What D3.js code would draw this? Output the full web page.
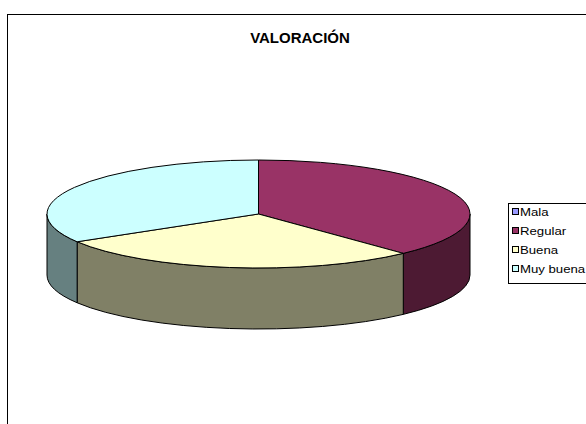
<!DOCTYPE html>
<html>
<head>
<meta charset="utf-8">
<script src="https://cdn.jsdelivr.net/npm/d3@7/dist/d3.min.js"></script>
<style>
  html, body { margin: 0; padding: 0; background: #fff; }
  svg { display: block; }
</style>
</head>
<body>
<script>
// Survey rating shares (percent)
const categories = ["Mala", "Regular", "Buena", "Muy buena"];
const values = [0, 38, 28.4, 33.6];
const colors = ["#9999FF", "#993366", "#FFFFCC", "#CCFFFF"];
const title = "VALORACIÓN";

const W = 586, H = 424;
const svg = d3.select("body").append("svg").attr("width", W).attr("height", H);

// chart frame (runs off the right and bottom edges)
svg.append("rect")
  .attr("x", 7.5).attr("y", 14.5)
  .attr("width", 600).attr("height", 430)
  .attr("fill", "#fff").attr("stroke", "#000").attr("stroke-width", 1);

svg.append("text")
  .attr("x", 300).attr("y", 43)
  .attr("text-anchor", "middle")
  .attr("font-family", "Arial, 'Liberation Sans', sans-serif")
  .attr("font-weight", "bold").attr("font-size", 15)
  .text(title);

// 3D pie geometry
const cx = 258.5, cy = 214, rx = 211.5, ry = 54, depth = 61;
const pie = d3.pie().sort(null).value(d => d.value);
const arcs = pie(categories.map((c, i) => ({ name: c, value: values[i], color: colors[i] })));

const pt = (a, dy = 0) => [cx + rx * Math.sin(a), cy - ry * Math.cos(a) + dy];
const darker = c => { const k = d3.rgb(c); return d3.rgb(k.r * 0.5, k.g * 0.5, k.b * 0.5).toString(); };

const g = svg.append("g");

// visible side walls: only the front half (angles between PI/2 and 3PI/2)
arcs.forEach(d => {
  if (d.endAngle - d.startAngle <= 0) return;
  const s = Math.max(d.startAngle, Math.PI / 2);
  const e = Math.min(d.endAngle, 3 * Math.PI / 2);
  if (e <= s) return;
  const p0 = pt(s), p1 = pt(e), q1 = pt(e, depth), q0 = pt(s, depth);
  const path = `M${p0}A${rx},${ry} 0 0 1 ${p1}L${q1}A${rx},${ry} 0 0 0 ${q0}Z`;
  g.append("path").attr("d", path)
    .attr("fill", darker(d.data.color))
    .attr("stroke", "#000").attr("stroke-width", 1).attr("stroke-linejoin", "round");
});

// top faces
arcs.forEach(d => {
  const span = d.endAngle - d.startAngle;
  if (span <= 0) return;
  const p0 = pt(d.startAngle), p1 = pt(d.endAngle);
  const large = span > Math.PI ? 1 : 0;
  const path = `M${cx},${cy}L${p0}A${rx},${ry} 0 ${large} 1 ${p1}Z`;
  g.append("path").attr("d", path)
    .attr("fill", d.data.color)
    .attr("stroke", "#000").attr("stroke-width", 1).attr("stroke-linejoin", "round");
});

// legend
const lg = svg.append("g");
lg.append("rect")
  .attr("x", 508.5).attr("y", 203.5).attr("width", 100).attr("height", 80)
  .attr("fill", "#fff").attr("stroke", "#000").attr("stroke-width", 1);
const rowY = d3.scalePoint().domain(categories).range([212, 269]);
categories.forEach((c, i) => {
  const y = rowY(c);
  lg.append("rect")
    .attr("x", 512.5).attr("y", y - 3.5).attr("width", 6).attr("height", 6)
    .attr("fill", colors[i]).attr("stroke", "#000").attr("stroke-width", 1);
  lg.append("text")
    .attr("transform", `translate(520,${y + 4}) scale(1.2,1)`)
    .attr("font-family", "Arial, 'Liberation Sans', sans-serif")
    .attr("font-size", 11)
    .text(c);
});
</script>
</body>
</html>
